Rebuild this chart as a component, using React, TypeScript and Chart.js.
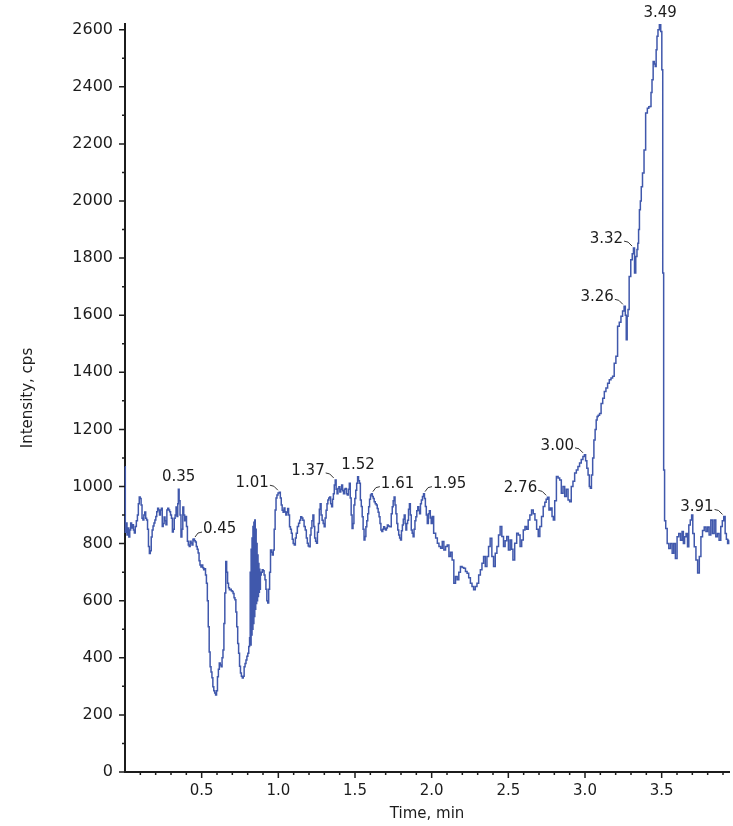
import React, { useEffect, useRef } from "react";
import { Chart, registerables } from "chart.js";

Chart.register(...registerables);

// ---- data (time in min, intensity in cps) ----
const timeMin: number[] = [
  0.000, 0.004, 0.010, 0.016, 0.022, 0.028, 0.034, 0.040, 0.046, 0.052,
  0.058, 0.064, 0.070, 0.078, 0.084, 0.090, 0.096, 0.102, 0.108, 0.114,
  0.120, 0.126, 0.132, 0.138, 0.144, 0.150, 0.156, 0.162, 0.168, 0.174,
  0.180, 0.186, 0.192, 0.198, 0.204, 0.210, 0.216, 0.222, 0.228, 0.234,
  0.240, 0.246, 0.252, 0.258, 0.264, 0.270, 0.276, 0.282, 0.288, 0.294,
  0.300, 0.306, 0.312, 0.318, 0.324, 0.330, 0.336, 0.342, 0.346, 0.350,
  0.356, 0.362, 0.368, 0.374, 0.380, 0.386, 0.392, 0.398, 0.404, 0.410,
  0.416, 0.422, 0.428, 0.434, 0.440, 0.446, 0.450, 0.456, 0.462, 0.468,
  0.474, 0.480, 0.486, 0.492, 0.498, 0.504, 0.510, 0.516, 0.522, 0.528,
  0.534, 0.540, 0.546, 0.552, 0.558, 0.564, 0.570, 0.576, 0.582, 0.588,
  0.594, 0.600, 0.606, 0.612, 0.618, 0.624, 0.630, 0.636, 0.642, 0.648,
  0.654, 0.660, 0.666, 0.672, 0.678, 0.684, 0.690, 0.696, 0.702, 0.708,
  0.714, 0.720, 0.726, 0.732, 0.738, 0.744, 0.750, 0.756, 0.762, 0.768,
  0.774, 0.780, 0.786, 0.792, 0.798, 0.804, 0.810, 0.815, 0.818, 0.821,
  0.824, 0.827, 0.830, 0.833, 0.836, 0.839, 0.842, 0.845, 0.848, 0.851,
  0.854, 0.857, 0.860, 0.863, 0.866, 0.869, 0.872, 0.875, 0.878, 0.881,
  0.885, 0.892, 0.898, 0.904, 0.910, 0.916, 0.922, 0.928, 0.934, 0.940,
  0.946, 0.952, 0.958, 0.964, 0.970, 0.976, 0.982, 0.988, 0.994, 1.002,
  1.010, 1.016, 1.022, 1.028, 1.034, 1.040, 1.046, 1.052, 1.058, 1.064,
  1.070, 1.076, 1.082, 1.088, 1.094, 1.100, 1.108, 1.114, 1.120, 1.128,
  1.136, 1.142, 1.150, 1.156, 1.164, 1.172, 1.179, 1.186, 1.192, 1.198,
  1.205, 1.210, 1.216, 1.222, 1.229, 1.234, 1.240, 1.246, 1.252, 1.258,
  1.265, 1.270, 1.276, 1.282, 1.289, 1.296, 1.302, 1.308, 1.315, 1.320,
  1.326, 1.332, 1.338, 1.344, 1.351, 1.356, 1.362, 1.368, 1.374, 1.380,
  1.386, 1.392, 1.398, 1.404, 1.410, 1.416, 1.422, 1.428, 1.434, 1.440,
  1.447, 1.453, 1.460, 1.466, 1.472, 1.478, 1.484, 1.490, 1.496, 1.502,
  1.508, 1.514, 1.520, 1.526, 1.532, 1.538, 1.544, 1.550, 1.556, 1.562,
  1.568, 1.574, 1.580, 1.586, 1.592, 1.598, 1.604, 1.610, 1.616, 1.622,
  1.628, 1.636, 1.642, 1.648, 1.654, 1.660, 1.666, 1.672, 1.678, 1.684,
  1.690, 1.696, 1.702, 1.708, 1.714, 1.720, 1.726, 1.733, 1.740, 1.746,
  1.752, 1.758, 1.764, 1.770, 1.776, 1.782, 1.788, 1.794, 1.800, 1.806,
  1.812, 1.818, 1.824, 1.830, 1.834, 1.840, 1.846, 1.852, 1.858, 1.864,
  1.870, 1.876, 1.882, 1.888, 1.894, 1.900, 1.906, 1.913, 1.918, 1.924,
  1.930, 1.936, 1.944, 1.950, 1.956, 1.962, 1.968, 1.975, 1.982, 1.988,
  1.994, 2.000, 2.006, 2.020, 2.032, 2.042, 2.053, 2.064, 2.074, 2.085,
  2.096, 2.107, 2.118, 2.128, 2.139, 2.150, 2.161, 2.172, 2.182, 2.193,
  2.204, 2.215, 2.226, 2.236, 2.247, 2.258, 2.268, 2.279, 2.290, 2.301,
  2.312, 2.323, 2.333, 2.344, 2.355, 2.366, 2.376, 2.387, 2.398, 2.409,
  2.420, 2.431, 2.441, 2.452, 2.463, 2.474, 2.484, 2.495, 2.506, 2.517,
  2.526, 2.534, 2.549, 2.560, 2.571, 2.582, 2.592, 2.603, 2.614, 2.624,
  2.635, 2.646, 2.657, 2.668, 2.679, 2.690, 2.700, 2.711, 2.722, 2.733,
  2.743, 2.750, 2.760, 2.770, 2.780, 2.790, 2.797, 2.808, 2.819, 2.830,
  2.840, 2.851, 2.862, 2.873, 2.884, 2.895, 2.905, 2.916, 2.927, 2.938,
  2.949, 2.959, 2.970, 2.981, 2.992, 3.000, 3.008, 3.016, 3.024, 3.032,
  3.038, 3.046, 3.054, 3.062, 3.070, 3.076, 3.082, 3.090, 3.100, 3.110,
  3.121, 3.131, 3.142, 3.153, 3.164, 3.175, 3.185, 3.196, 3.207, 3.218,
  3.229, 3.240, 3.250, 3.260, 3.266, 3.272, 3.278, 3.283, 3.293, 3.304,
  3.312, 3.320, 3.326, 3.336, 3.342, 3.347, 3.352, 3.358, 3.364, 3.370,
  3.380, 3.390, 3.401, 3.412, 3.420, 3.427, 3.434, 3.440, 3.449, 3.455,
  3.461, 3.467, 3.472, 3.480, 3.490, 3.498, 3.504, 3.510, 3.516, 3.522,
  3.531, 3.541, 3.552, 3.563, 3.574, 3.584, 3.595, 3.606, 3.617, 3.628,
  3.638, 3.645, 3.654, 3.664, 3.673, 3.681, 3.692, 3.699, 3.707, 3.718,
  3.729, 3.740, 3.751, 3.761, 3.772, 3.783, 3.794, 3.804, 3.815, 3.826,
  3.837, 3.848, 3.858, 3.869, 3.880, 3.891, 3.900, 3.910, 3.918, 3.926,
  3.934, 3.940,
];

const intensityCps: number[] = [
  1069, 840, 872, 830, 855, 823, 848, 872, 855, 866,
  848, 837, 860, 880, 900, 940, 963, 958, 935, 889,
  883, 900, 911, 889, 883, 850, 790, 765, 775, 823,
  848, 862, 872, 883, 895, 912, 924, 918, 900, 918,
  924, 860, 870, 893, 880, 866, 918, 924, 918, 912,
  900, 889, 841, 850, 889, 900, 928, 895, 940, 990,
  950, 900, 823, 850, 928, 900, 880, 895, 860, 808,
  795, 790, 808, 802, 795, 815, 816, 810, 806, 790,
  780, 767, 740, 725, 718, 725, 715, 708, 712, 690,
  661, 600, 509, 420, 369, 350, 330, 299, 285, 277,
  270, 285, 334, 360, 382, 375, 369, 400, 427, 520,
  627, 737, 700, 661, 645, 638, 640, 635, 632, 625,
  610, 603, 560, 509, 450, 416, 370, 347, 335, 329,
  335, 369, 380, 392, 405, 416, 440, 470, 700, 445,
  780, 480, 820, 500, 860, 520, 875, 545, 883, 570,
  850, 590, 800, 600, 760, 615, 730, 630, 710, 640,
  690, 700, 708, 705, 690, 673, 640, 600, 592, 640,
  700, 778, 770, 760, 778, 850, 918, 960, 970, 977,
  980, 960, 935, 917, 910, 925, 912, 900, 910, 923,
  900, 859, 850, 836, 815, 800, 795, 820, 836, 860,
  871, 882, 894, 890, 882, 860, 848, 820, 801, 792,
  789, 830, 855, 880, 900, 860, 820, 808, 801, 840,
  870, 920, 940, 900, 882, 870, 859, 890, 917, 940,
  953, 960, 963, 940, 929, 955, 975, 1005, 1023, 990,
  975, 993, 999, 981, 990, 1005, 985, 975, 990, 993,
  975, 970, 990, 1011, 960, 900, 853, 870, 935, 958,
  987, 1011, 1034, 1020, 1011, 953, 930, 894, 850, 813,
  825, 859, 880, 905, 929, 955, 970, 975, 965, 958,
  947, 940, 935, 923, 910, 894, 870, 848, 842, 850,
  859, 853, 848, 855, 865, 862, 860, 859, 905, 929,
  950, 963, 935, 905, 870, 848, 830, 820, 813, 845,
  865, 885, 900, 870, 848, 870, 882, 920, 940, 900,
  848, 836, 824, 850, 880, 894, 915, 929, 917, 905,
  940, 953, 965, 975, 958, 930, 900, 870, 905, 915,
  890, 870, 895, 836, 820, 801, 790, 784, 807, 778,
  790, 795, 755, 770, 743, 661, 685, 673, 700, 720,
  716, 714, 702, 696, 680, 661, 650, 638, 650, 661,
  690, 708, 731, 755, 720, 755, 790, 819, 755, 720,
  766, 790, 830, 860, 825, 790, 810, 825, 778, 813,
  780, 743, 801, 836, 830, 790, 813, 848, 860, 850,
  883, 900, 918, 905, 883, 850, 825, 860, 895, 930,
  945, 955, 962, 918, 925, 895, 883, 950, 1035, 1030,
  1023, 976, 1000, 965, 990, 953, 947, 1000, 1018, 1047,
  1058, 1070, 1082, 1095, 1105, 1111, 1090, 1064, 1040, 1000,
  994, 1040, 1100, 1163, 1200, 1233, 1245, 1250, 1256, 1291,
  1309, 1333, 1345, 1362, 1374, 1380, 1386, 1432, 1456, 1561,
  1575, 1596, 1615, 1631, 1600, 1514, 1596, 1620, 1736, 1794,
  1815, 1835, 1748, 1806, 1830, 1852, 1900, 1969, 2000, 2050,
  2098, 2179, 2308, 2325, 2330, 2331, 2380, 2425, 2489, 2480,
  2471, 2530, 2577, 2600, 2617, 2594, 2460, 1748, 1058, 880,
  853, 800, 783, 800, 766, 800, 748, 824, 835, 812,
  842, 800, 824, 835, 789, 865, 883, 900, 835, 789,
  743, 697, 755, 824, 846, 858, 842, 858, 830, 883,
  835, 883, 824, 835, 812, 860, 880, 895, 835, 815,
  800, 812,
];

// labelled peak apex times
const peakTimes: number[] = [0.35, 0.45, 1.01, 1.37, 1.52, 1.61, 1.95, 2.76, 3.0, 3.26, 3.32, 3.49, 3.91];
const peakLabels: string[] = ["0.35", "0.45", "1.01", "1.37", "1.52", "1.61", "1.95", "2.76", "3.00", "3.26", "3.32", "3.49", "3.91"];
const peakSides: string[] = ["above", "right", "left", "left", "above", "right", "right", "left", "left", "left", "left", "above", "left"];

// axis ticks
const xMajorTicks: number[] = [0.5, 1.0, 1.5, 2.0, 2.5, 3.0, 3.5];
const xMajorLabels: string[] = ["0.5", "1.0", "1.5", "2.0", "2.5", "3.0", "3.5"];
const yMajorTicks: number[] = [0, 200, 400, 600, 800, 1000, 1200, 1400, 1600, 1800, 2000, 2200, 2400, 2600];
const X_MIN = 0;
const X_MAX = 3.94;
const X_MINOR_STEP = 0.1;
const Y_MIN = 0;
const Y_MAX = 2620;
const Y_MINOR_STEP = 100;

const AXIS_COLOR = "#1c1c1c";
const TEXT_COLOR = "#1c1c1c";
const LINE_COLOR = "#4058ac";
const FONT = "'DejaVu Sans', 'Liberation Sans', sans-serif";

const isXMajor = (v: number) => xMajorTicks.some((m) => Math.abs(m - v) < 1e-6);
const isYMajor = (v: number) => yMajorTicks.indexOf(v) >= 0;

const tickMarksPlugin = {
  id: "tickMarks",
  afterDraw(chart: any) {
    const { ctx, chartArea } = chart;
    const xs = chart.scales.x;
    const ys = chart.scales.y;
    ctx.save();
    ctx.strokeStyle = AXIS_COLOR;
    ctx.lineWidth = 1.5;
    ctx.beginPath();
    xs.ticks.forEach((t: any) => {
      if (t.value <= X_MIN + 1e-9) return;
      const px = xs.getPixelForValue(t.value);
      ctx.moveTo(px, chartArea.bottom);
      ctx.lineTo(px, chartArea.bottom + (isXMajor(t.value) ? 6 : 3));
    });
    ys.ticks.forEach((t: any) => {
      const py = ys.getPixelForValue(t.value);
      ctx.moveTo(chartArea.left, py);
      ctx.lineTo(chartArea.left - (isYMajor(t.value) ? 6 : 3), py);
    });
    ctx.stroke();
    ctx.restore();
  },
};

const peakLabelPlugin = {
  id: "peakLabels",
  afterDatasetsDraw(chart: any) {
    const { ctx } = chart;
    const xs = chart.scales.x;
    const ys = chart.scales.y;
    ctx.save();
    ctx.font = `15px ${FONT}`;
    ctx.fillStyle = TEXT_COLOR;
    ctx.strokeStyle = "#333";
    ctx.lineWidth = 1;
    ctx.textBaseline = "middle";
    peakTimes.forEach((pt, k) => {
      let best = -1;
      for (let i = 0; i < timeMin.length; i++) {
        if (Math.abs(timeMin[i] - pt) <= 0.008 && (best < 0 || intensityCps[i] > intensityCps[best])) best = i;
      }
      if (best < 0) return;
      const px = xs.getPixelForValue(timeMin[best]);
      const py = ys.getPixelForValue(intensityCps[best]);
      const side = peakSides[k];
      const text = peakLabels[k];
      if (side === "above") {
        ctx.textAlign = "center";
        ctx.fillText(text, px, py - 12);
      } else if (side === "left") {
        ctx.textAlign = "right";
        ctx.fillText(text, px - 11, py - 9);
        ctx.beginPath();
        ctx.moveTo(px - 10, py - 7);
        ctx.lineTo(px - 6, py - 6);
        ctx.lineTo(px - 2, py - 2);
        ctx.stroke();
      } else {
        ctx.textAlign = "left";
        ctx.fillText(text, px + 9, py - 10);
        ctx.beginPath();
        ctx.moveTo(px + 1, py - 2);
        ctx.lineTo(px + 4, py - 6);
        ctx.lineTo(px + 8, py - 7);
        ctx.stroke();
      }
    });
    ctx.restore();
  },
};

export default function App() {
  const canvasRef = useRef<HTMLCanvasElement | null>(null);

  useEffect(() => {
    document.body.style.margin = "0";
    const canvas = canvasRef.current;
    if (!canvas) return;

    const xTickValues: number[] = [];
    for (let i = 0; i * X_MINOR_STEP <= X_MAX + 1e-9; i++) xTickValues.push(Math.round(i * X_MINOR_STEP * 10) / 10);
    const yTickValues: number[] = [];
    for (let v = Y_MIN; v <= Y_MAX; v += Y_MINOR_STEP) yTickValues.push(v);

    const chart = new Chart(canvas, {
      type: "line",
      data: {
        datasets: [
          {
            data: timeMin.map((t, i) => ({ x: t, y: intensityCps[i] })),
            borderColor: LINE_COLOR,
            borderWidth: 1.5,
            pointRadius: 0,
            fill: false,
            stepped: "middle",
            clip: false,
          } as any,
        ],
      },
      options: {
        animation: false,
        responsive: false,
        devicePixelRatio: 1,
        events: [],
        layout: { padding: { top: 24, right: 0, bottom: 0, left: 0 } },
        plugins: { legend: { display: false }, tooltip: { enabled: false } },
        scales: {
          x: {
            type: "linear",
            min: X_MIN,
            max: X_MAX,
            afterBuildTicks: (s: any) => {
              s.ticks = xTickValues.map((v) => ({ value: v }));
            },
            afterFit: (s: any) => {
              s.height = 54;
            },
            grid: { display: false, drawTicks: false },
            border: { display: true, color: AXIS_COLOR, width: 2 },
            ticks: {
              autoSkip: false,
              maxRotation: 0,
              padding: 10,
              color: TEXT_COLOR,
              font: { family: FONT, size: 15 },
              callback: (v: any) => {
                const idx = xMajorTicks.findIndex((m) => Math.abs(m - Number(v)) < 1e-6);
                return idx >= 0 ? xMajorLabels[idx] : "";
              },
            },
            title: {
              display: true,
              text: "Time, min",
              color: TEXT_COLOR,
              font: { family: FONT, size: 15 },
              padding: { top: 0, bottom: 3 },
            },
          },
          y: {
            type: "linear",
            min: Y_MIN,
            max: Y_MAX,
            afterBuildTicks: (s: any) => {
              s.ticks = yTickValues.map((v) => ({ value: v }));
            },
            afterFit: (s: any) => {
              s.width = 125;
            },
            grid: { display: false, drawTicks: false },
            border: { display: true, color: AXIS_COLOR, width: 2 },
            ticks: {
              autoSkip: false,
              padding: 12,
              color: TEXT_COLOR,
              font: { family: FONT, size: 16 },
              callback: (v: any) => (isYMajor(Number(v)) ? String(v) : ""),
            },
            title: {
              display: true,
              text: "Intensity, cps",
              color: TEXT_COLOR,
              font: { family: FONT, size: 15 },
              padding: { top: 19, bottom: 0 },
            },
          },
        },
      },
      plugins: [tickMarksPlugin, peakLabelPlugin],
    });

    return () => chart.destroy();
  }, []);

  return (
    <div style={{ width: 733, height: 826 }}>
      <canvas ref={canvasRef} width={733} height={826} style={{ display: "block" }} />
    </div>
  );
}
